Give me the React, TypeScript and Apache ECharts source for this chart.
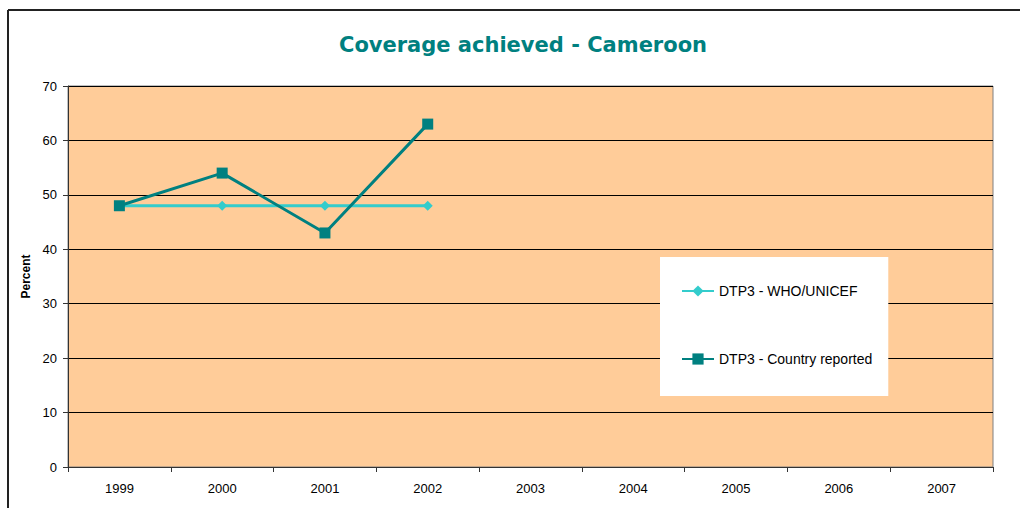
import React, { useEffect, useRef } from "react";
import * as echarts from "echarts";

const years = ["1999", "2000", "2001", "2002", "2003", "2004", "2005", "2006", "2007"];
const whoUnicef = [48, 48, 48, 48, null, null, null, null, null];
const countryReported = [48, 54, 43, 63, null, null, null, null, null];
const seriesNames = ["DTP3 - WHO/UNICEF", "DTP3 - Country reported"];
const titleText = "Coverage achieved - Cameroon";

export default function App() {
  const ref = useRef<HTMLDivElement>(null);
  useEffect(() => {
    if (!ref.current) return;
    const chart = echarts.init(ref.current, null, { renderer: "svg" });
    chart.setOption({
      animation: false,
      backgroundColor: "#ffffff",
      title: {
        text: titleText,
        left: 518,
        textAlign: "center",
        top: 29,
        textStyle: {
          color: "#008080",
          fontFamily: "DejaVu Sans",
          fontWeight: "bold",
          fontSize: 21,
        },
      },
      grid: {
        left: 68,
        top: 86,
        right: 27,
        bottom: 41,
        show: true,
        backgroundColor: "#FFCC99",
        borderColor: "#808080",
        borderWidth: 1,
      },
      legend: {
        orient: "vertical",
        left: 660,
        top: 257,
        backgroundColor: "#ffffff",
        padding: [27, 16, 30, 21],
        itemGap: 54,
        itemWidth: 32,
        itemHeight: 14,
        textStyle: { fontFamily: "Liberation Sans", fontSize: 14, color: "#000" },
        data: seriesNames,
      },
      xAxis: {
        type: "category",
        data: years,
        boundaryGap: true,
        axisLine: { lineStyle: { color: "#333", width: 1 } },
        axisTick: { show: true, inside: false, length: 5, alignWithLabel: false, lineStyle: { color: "#333" } },
        axisLabel: { margin: 15, fontFamily: "Liberation Sans", fontSize: 13, color: "#000" },
      },
      yAxis: {
        type: "value",
        min: 0,
        max: 70,
        interval: 10,
        name: "Percent",
        nameLocation: "middle",
        nameGap: 36,
        nameTextStyle: { fontFamily: "Liberation Sans", fontWeight: "bold", fontSize: 12, color: "#000" },
        axisLine: { show: true, lineStyle: { color: "#333", width: 1 } },
        axisTick: { show: true, length: 5, lineStyle: { color: "#333" } },
        axisLabel: { margin: 11, fontFamily: "Liberation Sans", fontSize: 13, color: "#000" },
        splitLine: { show: true, lineStyle: { color: "#000", width: 1 } },
      },
      series: [
        {
          name: seriesNames[0],
          type: "line",
          data: whoUnicef,
          color: "#33CCCC",
          symbol: "diamond",
          symbolSize: 10,
          lineStyle: { width: 3, color: "#33CCCC" },
          itemStyle: { color: "#33CCCC" },
          z: 2,
        },
        {
          name: seriesNames[1],
          type: "line",
          data: countryReported,
          color: "#008080",
          symbol: "rect",
          symbolSize: 11,
          lineStyle: { width: 3, color: "#008080" },
          itemStyle: { color: "#008080" },
          z: 3,
        },
      ],
      graphic: [
        { type: "line", shape: { x1: 8, y1: 10, x2: 1020, y2: 10 }, style: { stroke: "#222", lineWidth: 2 } },
        { type: "line", shape: { x1: 8, y1: 10, x2: 8, y2: 508 }, style: { stroke: "#222", lineWidth: 2 } },
      ],
    });
    return () => chart.dispose();
  }, []);
  return <div ref={ref} style={{ width: 1020, height: 508, position: "absolute", left: 0, top: 0 }} />;
}
